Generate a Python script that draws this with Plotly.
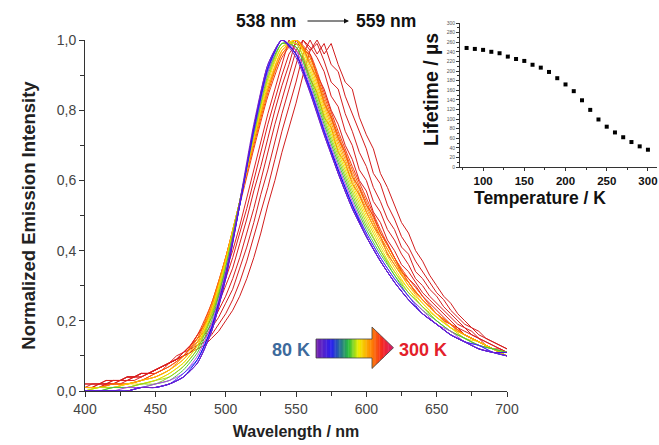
import plotly.graph_objects as go

# ---------------- data ----------------
wavelength_nm = list(range(400, 701, 10))      # sampling of the 80-230 K spectra
wavelength_5nm = list(range(400, 701, 5))      # sampling of the 240-300 K spectra

I_080 = [0,0,0,0,1,1,2,4,8,17,33,54,76,93,100,95,85,73,62,52,44,37,31,26,22,19,16,14,12,11,10]
I_090 = [0,0,0,0,1,1,2,4,8,17,32,53,75,93,100,96,85,73,62,52,44,37,31,26,22,19,16,14,12,11,11]
I_100 = [0,0,0,0,1,1,2,4,8,17,32,53,75,92,100,96,86,74,62,52,44,37,31,26,22,19,16,14,13,11,10]
I_110 = [0,0,0,0,1,1,2,4,9,18,33,53,75,92,100,96,86,74,63,53,44,37,31,26,22,19,16,14,12,11,10]
I_120 = [0,0,0,0,1,1,2,5,9,18,33,53,74,92,100,96,86,74,63,53,45,38,32,27,22,19,16,14,12,11,11]
I_130 = [0,0,0,1,1,2,3,5,10,19,34,53,74,91,100,97,87,75,64,54,45,38,32,27,23,19,17,14,13,11,10]
I_140 = [0,0,1,1,1,2,3,6,11,20,35,54,74,91,99,98,88,76,65,55,46,39,33,27,23,20,17,15,13,12,11]
I_150 = [0,0,1,1,2,2,4,7,12,21,35,54,73,90,99,98,89,77,66,56,47,40,33,28,24,20,17,15,13,12,11]
I_160 = [0,1,1,1,2,3,4,7,12,22,36,54,73,89,99,99,90,78,67,57,48,40,34,28,24,20,17,15,13,12,10]
I_170 = [0,1,1,1,2,3,5,8,13,22,36,54,73,89,98,99,91,79,68,58,49,41,34,29,24,21,18,15,13,12,11]
I_180 = [0,1,1,2,2,3,5,8,13,23,37,54,72,88,98,100,92,80,69,59,50,42,35,29,25,21,18,15,14,12,11]
I_190 = [1,1,1,2,3,4,6,9,14,23,37,54,72,87,97,100,93,81,70,60,51,43,36,30,25,21,18,16,14,12,11]
I_200 = [1,1,1,2,3,4,6,9,14,24,38,54,71,86,97,100,94,82,71,61,52,44,37,30,26,22,18,16,14,12,10]
I_210 = [1,1,2,2,3,4,6,10,15,24,38,54,71,86,96,100,95,83,72,62,53,44,37,31,26,22,19,16,14,12,10]
I_220 = [1,1,2,2,3,5,7,10,15,25,38,54,70,85,96,100,95,84,73,63,54,45,38,31,26,22,19,16,14,12,10]
I_230 = [1,1,2,2,3,5,7,10,16,25,38,53,69,84,95,100,96,85,74,64,55,46,38,32,27,22,19,16,14,12,10]

I_240 = [1,1,1,2,2,2,3,3,4,5,5,6,8,9,11,13,16,19,23,28,34,40,47,55,63,71,79,86,93,100,97,
         95,89,85,78,75,68,65,59,56,51,47,44,39,36,33,31,28,26,24,22,20,19,17,16,15,14,13,12,11,11]
I_250 = [1,1,1,2,2,3,3,4,4,5,6,7,8,10,11,13,16,19,22,27,32,38,45,52,60,68,76,83,90,96,99,
         98,93,89,82,78,72,68,61,58,53,50,45,42,38,34,32,30,27,25,23,21,19,18,16,15,14,13,12,11,11]
I_260 = [1,1,2,2,2,3,3,4,4,5,6,7,8,9,11,13,15,17,21,25,30,35,42,49,57,64,72,80,87,93,100,
         97,96,90,86,80,76,70,66,60,57,51,48,43,40,36,34,31,28,26,24,22,20,18,17,16,15,13,12,12,11]
I_270 = [1,1,2,2,3,3,4,4,5,5,6,7,8,9,11,12,14,16,19,23,27,32,38,45,52,60,68,76,83,90,97,
         100,98,95,91,84,81,74,70,63,60,54,51,46,43,39,36,32,30,27,25,23,21,19,18,16,15,14,13,12,11]
I_280 = [1,2,2,2,3,3,4,4,5,5,6,7,8,9,10,12,13,15,18,21,25,29,35,41,48,56,63,71,79,86,93,
         100,97,99,94,88,86,79,74,68,64,58,54,49,46,41,39,34,32,29,27,24,22,20,18,17,15,14,13,12,11]
I_290 = [2,2,2,3,3,3,4,4,5,5,6,7,8,9,10,11,13,14,16,19,22,26,31,37,44,51,58,66,74,81,88,
         96,100,96,99,93,91,84,79,74,69,62,59,53,49,44,41,37,34,31,28,26,23,21,19,18,16,15,14,13,12]
I_300 = [2,2,2,3,3,3,4,4,5,5,6,7,8,9,10,11,12,13,15,17,20,23,27,32,38,45,53,60,68,75,82,
         90,97,100,96,99,93,88,86,78,73,69,62,58,53,48,45,40,37,33,30,27,25,22,20,18,17,15,14,13,12]

spectra_T = [80, 90, 100, 110, 120, 130, 140, 150, 160, 170, 180, 190,
             200, 210, 220, 230, 240, 250, 260, 270, 280, 290, 300]
spectra = [I_080, I_090, I_100, I_110, I_120, I_130, I_140, I_150, I_160, I_170, I_180, I_190,
           I_200, I_210, I_220, I_230, I_240, I_250, I_260, I_270, I_280, I_290, I_300]
spectra_colors = ["#7a22c8", "#5010e0", "#2a2aff", "#0a0af0", "#3535ff", "#b040e8",
                  "#44c044", "#80d020", "#b4e010", "#e0e000", "#ffd800", "#ffb800",
                  "#ff9a00", "#ff7a00", "#ff5a00", "#f23a10", "#e02020", "#dc1e1e",
                  "#d81c1c", "#d91e1e", "#d42020", "#d61c1c", "#d21e1e"]

lifetime_T = [80, 90, 100, 110, 120, 130, 140, 150, 160, 170, 180, 190,
              200, 210, 220, 230, 240, 250, 260, 270, 280, 290, 300]
lifetime_us = [248, 246, 244, 240, 237, 230, 225, 221, 213, 207, 198, 185,
               172, 158, 139, 119, 99, 84, 72, 62, 52, 43, 36]

W, H = 659, 445
def px(x):
    return x / W
def py(y):
    return 1 - y / H

fig = go.Figure()

for T, vals, col in reversed(list(zip(spectra_T, spectra, spectra_colors))):
    xs = wavelength_5nm if len(vals) == len(wavelength_5nm) else wavelength_nm
    shape = "linear" if len(vals) == len(wavelength_5nm) else "spline"
    fig.add_trace(go.Scatter(x=xs, y=[v / 100 for v in vals], mode="lines",
                             line=dict(color=col, width=1, shape=shape, smoothing=0.6),
                             showlegend=False, xaxis="x", yaxis="y", name=f"{T} K"))

fig.add_trace(go.Scatter(x=lifetime_T, y=lifetime_us, mode="markers",
                         marker=dict(symbol="square", size=4, color="black"),
                         showlegend=False, xaxis="x2", yaxis="y2"))

font_fam = "Liberation Sans, Arial, sans-serif"
axcol = "#333333"
tickcol = "#444444"

fig.update_layout(
    width=W, height=H, margin=dict(l=0, r=0, t=0, b=0),
    paper_bgcolor="white", plot_bgcolor="rgba(0,0,0,0)",
    separators=",.",
    font=dict(family=font_fam, color=axcol),
    xaxis=dict(domain=[px(85), px(507)], range=[400, 700], tickvals=[400, 450, 500, 550, 600, 650, 700],
               ticks="outside", ticklen=5, tickcolor=axcol, showline=True, linecolor=axcol, linewidth=1,
               showgrid=False, zeroline=False, tickfont=dict(size=14, color=tickcol),
               minor=dict(tickvals=list(range(425, 700, 50)), ticks="outside", ticklen=4, tickcolor=axcol),
               title=dict(text="<b>Wavelength / nm</b>", font=dict(size=16, color="#222"), standoff=10),
               anchor="y", automargin=False),
    yaxis=dict(domain=[py(391), py(40)], range=[0, 1.0], tickvals=[0, 0.2, 0.4, 0.6, 0.8, 1.0],
               tickformat=".1f", ticks="outside", ticklen=5, tickcolor=axcol, showline=True,
               linecolor=axcol, linewidth=1, showgrid=False, zeroline=False,
               tickfont=dict(size=14, color=tickcol),
               minor=dict(tickvals=[0.1, 0.3, 0.5, 0.7, 0.9], ticks="outside", ticklen=4, tickcolor=axcol),
               title=dict(text="<b>Normalized Emission Intensity</b>", font=dict(size=18.5, color="#222"), standoff=16),
               anchor="x", automargin=False),
    xaxis2=dict(domain=[px(460), px(657)], range=[72, 311], tickvals=[100, 150, 200, 250, 300],
                ticks="outside", ticklen=3, tickcolor=axcol, showline=True, linecolor=axcol, linewidth=1,
                showgrid=False, zeroline=False, tickfont=dict(size=11.5, color="#111", weight="bold"),
                minor=dict(tickvals=[75, 125, 175, 225, 275], ticks="outside", ticklen=2, tickcolor=axcol),
                anchor="y2", automargin=False),
    yaxis2=dict(domain=[py(167), py(23)], range=[0, 300], tickvals=list(range(0, 301, 20)),
                ticks="outside", ticklen=3, tickcolor=axcol, showline=True, linecolor=axcol, linewidth=1,
                showgrid=False, zeroline=False, tickfont=dict(size=5, color="#555"),
                minor=dict(tickvals=list(range(10, 300, 20)), ticks="outside", ticklen=2, tickcolor=axcol),
                anchor="x2", automargin=False),
)

def label(x, y, text, size, color, angle=0):
    fig.add_annotation(x=px(x), y=py(y), xref="paper", yref="paper", text=text,
                       showarrow=False, xanchor="center", yanchor="middle", textangle=angle,
                       font=dict(size=size, color=color))

# inset titles
label(540, 198, "<b>Temperature / K</b>", 17.5, "#111")
label(431, 90, "<b>Lifetime / µs</b>", 19.5, "#111", angle=-90)

# peak-shift annotation
label(266, 21, "<b>538 nm</b>", 17.5, "#111")
label(386, 21, "<b>559 nm</b>", 17.5, "#111")
fig.add_annotation(x=px(349), y=py(21), ax=-43, ay=0, xref="paper", yref="paper",
                   axref="pixel", ayref="pixel", text="", showarrow=True, arrowhead=2,
                   arrowsize=1, arrowwidth=1, arrowcolor="#111")

# temperature labels
label(291, 350, "<b>80 K</b>", 18, "#3d6a9c")
label(423, 350, "<b>300 K</b>", 18, "#e3202a")

# gradient arrow (decoration)
stops = [(0.0, (122, 34, 170)), (0.2, (40, 30, 240)), (0.42, (40, 190, 60)),
         (0.55, (240, 240, 0)), (0.7, (255, 140, 0)), (0.85, (245, 40, 30)), (1.0, (215, 25, 110))]
def grad(t):
    for (t0, c0), (t1, c1) in zip(stops[:-1], stops[1:]):
        if t0 <= t <= t1:
            f = (t - t0) / (t1 - t0) if t1 > t0 else 0
            return "rgb(%d,%d,%d)" % tuple(round(a + (b - a) * f) for a, b in zip(c0, c1))
    return "rgb(%d,%d,%d)" % stops[-1][1]

ax0, axb, ax1 = 316.0, 372.0, 393.5
body_top, body_bot = 339.0, 358.0
head_top, head_bot = 327.0, 368.5
ymid = (head_top + head_bot) / 2
half_head = (head_bot - head_top) / 2
N = 60
def half_h(x):
    return half_head * (ax1 - x) / (ax1 - axb)
for i in range(N):
    a = ax0 + (ax1 - ax0) * i / N
    b = min(ax0 + (ax1 - ax0) * (i + 1) / N + 0.4, ax1)
    col = grad((i + 0.5) / N)
    if b <= axb:
        pts = [(a, body_top), (b, body_top), (b, body_bot), (a, body_bot)]
    elif a >= axb:
        ha, hb = half_h(a), half_h(b)
        pts = [(a, ymid - ha), (b, ymid - hb), (b, ymid + hb), (a, ymid + ha)]
    else:
        hb = half_h(b)
        pts = [(a, body_top), (axb, body_top), (axb, head_top), (b, ymid - hb),
               (b, ymid + hb), (axb, head_bot), (axb, body_bot), (a, body_bot)]
    path = "M " + " L ".join(f"{px(x):.5f},{py(y):.5f}" for x, y in pts) + " Z"
    fig.add_shape(type="path", path=path, xref="paper", yref="paper",
                  fillcolor=col, line=dict(width=0), layer="above")
outline = [(ax0, body_top), (axb, body_top), (axb, head_top), (ax1, ymid),
           (axb, head_bot), (axb, body_bot), (ax0, body_bot)]
fig.add_shape(type="path", xref="paper", yref="paper", layer="above",
              path="M " + " L ".join(f"{px(x):.5f},{py(y):.5f}" for x, y in outline) + " Z",
              line=dict(color="rgba(70,70,70,0.8)", width=1), fillcolor="rgba(0,0,0,0)")

fig.write_html("out.html", config={"displayModeBar": False},
               post_script="document.body.style.margin='0';document.body.style.overflow='hidden';")
